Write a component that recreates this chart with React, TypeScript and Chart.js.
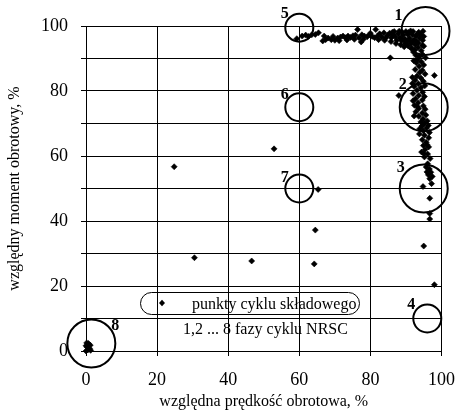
import { useEffect, useRef } from 'react';
import { Chart, registerables } from 'chart.js';

Chart.register(...registerables);

const FONT = "'Liberation Serif', 'Times New Roman', Times, serif";

const xAxisTitle = 'względna prędkość obrotowa, %';
const yAxisTitle = 'względny moment obrotowy, %';
const legendPointsText = 'punkty cyklu składowego';
const legendPhasesText = '1,2 ... 8 fazy cyklu NRSC';

// [relative speed %, relative torque %]
const idleCluster: [number, number][] = [
  [0, 0], [0.5, 0.3], [1, 0.8], [0.3, 1.2], [1.2, 1.8], [0.7, 2.3], [0, 1.6], [1.3, 0.2], [0.6, 1.6], [0.2, 2.5],
];

const scatteredPoints: [number, number][] = [
  [24.8, 56.7], [30.5, 28.7], [46.6, 27.7], [52.9, 62.2], [64.2, 26.8], [64.5, 37.2], [65.3, 49.7],
  [85.6, 90.2], [88, 78.6], [98, 84.8], [95, 32.3], [98, 20.4],
];

const topBand: [number, number][] = [
  [59.3, 96.1], [60.8, 96.9], [61.8, 97.2], [62.6, 96.8], [63.5, 97.3], [64.5, 97.4], [65.4, 97.9],
  [66.6, 95.4], [67.4, 95.8], [68.1, 96.3], [69, 95.8], [70, 95.6], [70.8, 96.3], [71.6, 96.6],
  [72.3, 96.9], [73, 96.4], [73.7, 96.9], [74.4, 96.5], [75.1, 97], [75.8, 97.2], [76.4, 98.9],
  [76.8, 96.4], [77.4, 95.1], [77.6, 97.3], [78.3, 96.9], [79.1, 96.7], [79.8, 97.3], [80.5, 96.8],
  [81.2, 96.4], [81.5, 98.9], [82, 96.9], [82.6, 97.6], [83.2, 96.6], [83.8, 97.9], [84.3, 96.3],
  [84.8, 97.1], [85.4, 97.8], [85.9, 96.4], [86.4, 97.2], [87, 96.7], [87.4, 95.6], [87.8, 97.6],
  [88.3, 96.4], [88.8, 95.5], [89.2, 97.2], [89.7, 96], [90.1, 95], [90.5, 97.4], [91, 96.2],
  [91.4, 94.6], [91.8, 97.3], [92.3, 95.8], [92.8, 96.9], [93.3, 97.6], [93.8, 96.3], [94.3, 97.2],
  [94.7, 95.6], [95, 96.8], [86.7, 98.3], [89, 98.1], [90.7, 98], [92, 98.3], [93.6, 98.1], [94.8, 98.4],
  [88.5, 94.2], [89.5, 93.6], [90.6, 93.9], [91.6, 93.2], [87.2, 94.6],
  [67, 96.9], [69.5, 96.8], [71.2, 95.5], [73.4, 95.7], [75.5, 95.9], [78, 95.9], [80, 97.8],
  [82.3, 95.8], [84, 95.6], [85.8, 95.2], [86.2, 98.1], [88.1, 98.4], [90, 98.3], [91.3, 98.5],
  [92.6, 94.2], [93.5, 94.8], [94.6, 94.1], [89.9, 94.6], [91.9, 95.2], [90.9, 95.6],
];

const cornerBand: [number, number][] = [
  [92.5, 92.6], [93.4, 93.4], [94.3, 92.4], [95, 93.8], [92.8, 91], [93.8, 90.6], [94.7, 91.2],
  [93.2, 89.6], [94.3, 89], [95, 88], [92.9, 88.7], [93.7, 87.6], [92.6, 86.6], [94.6, 86.4],
  [93.9, 85.7], [93.1, 84.6], [94.2, 84], [92.6, 83.3], [94.9, 83], [93.5, 82.2], [92.3, 81.4],
  [94.2, 81], [93.1, 80.2], [94.7, 79.6], [92, 79.2], [93.6, 78.6], [92.7, 77.6], [94.6, 77.2],
  [93.4, 76.4], [92.4, 75.6], [94.9, 75.4], [93.6, 74.6], [92.8, 73.6], [94.6, 73.2], [95.6, 72.6],
  [93.6, 72.2], [94.8, 71.4], [96, 70.8], [95.2, 70], [94.5, 69.2], [95.8, 68.6], [94.9, 67.8],
  [93.8, 66.8], [95.2, 66.4], [96.4, 65.6], [94.6, 65], [95.7, 64.2], [94.9, 63.2], [96.4, 62.8],
  [95.4, 62], [94.4, 61.2], [96.1, 60.6], [95.2, 59.7],
  [93, 95.2], [92.1, 92], [95.5, 90.2], [92.2, 89.3], [95.4, 85.2], [91.8, 84.2], [95.3, 81.6],
  [91.8, 82.3], [95.2, 78.3], [92, 77], [93.2, 75.2], [95.4, 74.4], [92.3, 72.3], [94.2, 70.5],
  [96.3, 69.4], [93.9, 68.4], [96.6, 67.2], [95.9, 63.5], [95, 60.8], [96.8, 59.2],
];

const lowerBand: [number, number][] = [
  [96.1, 57.6], [95.7, 56.6], [96.6, 56], [95.9, 55.1], [97, 55], [96.3, 54.2], [97.4, 53.7],
  [96.7, 53], [97.2, 51.5], [94.8, 50.6], [96.7, 47], [96.7, 42.3], [96.7, 40.6],
];

// NRSC phases
const phaseLabels = ['1', '2', '3', '4', '5', '6', '7', '8'];
const phaseSpeed = [95.5, 95, 95, 96, 60, 60, 60, 1.5];
const phaseTorque = [98.5, 75, 50, 10, 99.5, 75, 50, 2.3];

const cyclePoints = [...idleCluster, ...scatteredPoints, ...topBand, ...cornerBand, ...lowerBand].map(
  ([x, y]) => ({ x, y })
);
const phasePoints = phaseSpeed.map((x, i) => ({ x, y: phaseTorque[i] }));

// pixel offsets of phase numbers relative to their circles
const labelOffsets: [number, number][] = [
  [-27, -15], [-21, -22], [-23, -21], [-16, -14], [-14.5, -14], [-14.5, -12], [-14.5, -11], [24, -17.5],
];

const overlayPlugin = {
  id: 'nrscOverlay',
  afterDatasetsDraw(chart: any) {
    const ctx = chart.ctx as CanvasRenderingContext2D;
    const meta = chart.getDatasetMeta(1);
    ctx.save();
    ctx.fillStyle = '#000';
    ctx.font = `bold 16px ${FONT}`;
    ctx.textAlign = 'center';
    ctx.textBaseline = 'middle';
    meta.data.forEach((el: any, i: number) => {
      const [dx, dy] = labelOffsets[i];
      ctx.fillText(phaseLabels[i], el.x + dx, el.y + dy);
    });

    // legend
    const { left, top } = chart.chartArea;
    const px = left + 54;
    const py = top + 266;
    const w = 219;
    const h = 22;
    ctx.strokeStyle = '#000';
    ctx.lineWidth = 1;
    ctx.beginPath();
    (ctx as any).roundRect(px + 0.5, py + 0.5, w, h, h / 2);
    ctx.stroke();
    // diamond marker
    const mx = px + 22;
    const my = py + 11;
    ctx.beginPath();
    ctx.moveTo(mx, my - 3.3);
    ctx.lineTo(mx + 3, my);
    ctx.lineTo(mx, my + 3.3);
    ctx.lineTo(mx - 3, my);
    ctx.closePath();
    ctx.fill();
    ctx.font = `16px ${FONT}`;
    ctx.textAlign = 'left';
    ctx.textBaseline = 'alphabetic';
    ctx.fillText(legendPointsText, px + 52, py + 17);
    ctx.fillText(legendPhasesText, px + 43, py + 42);
    ctx.restore();
  },
};

export default function App() {
  const canvasRef = useRef<HTMLCanvasElement | null>(null);

  useEffect(() => {
    document.body.style.margin = '0';
    const canvas = canvasRef.current;
    if (!canvas) return;
    const chart = new Chart(canvas, {
      type: 'scatter',
      data: {
        datasets: [
          {
            label: legendPointsText,
            data: cyclePoints,
            pointStyle: 'rectRot',
            pointRadius: 3,
            backgroundColor: '#000',
            borderColor: '#000',
            borderWidth: 0.6,
            clip: false,
          },
          {
            label: legendPhasesText,
            data: phasePoints,
            pointStyle: 'circle',
            pointRadius: (c: any) => (c.dataIndex <= 2 || c.dataIndex === 7 ? 24 : 14),
            backgroundColor: 'rgba(0,0,0,0)',
            borderColor: '#000',
            borderWidth: 2,
            clip: false,
          },
        ],
      },
      options: {
        responsive: false,
        animation: false,
        events: [],
        layout: { padding: { top: 23, right: 19, left: 0, bottom: 0 } },
        plugins: {
          legend: { display: false },
          tooltip: { enabled: false },
        },
        scales: {
          x: {
            type: 'linear',
            min: 0,
            max: 100,
            ticks: { stepSize: 20, color: '#000', font: { family: FONT, size: 18 }, padding: 13 },
            grid: { color: '#000', lineWidth: 1, tickLength: 5, drawTicks: true },
            border: { display: true, color: '#000', width: 1 },
            title: {
              display: true,
              text: xAxisTitle,
              color: '#000',
              font: { family: FONT, size: 16 },
              padding: { top: 0, bottom: 2.4 },
            },
            afterFit: (s: any) => {
              s.height = 63;
            },
          },
          y: {
            type: 'linear',
            min: 0,
            max: 100,
            ticks: {
              stepSize: 10,
              color: '#000',
              font: { family: FONT, size: 18 },
              padding: 13,
              callback: (v: any) => (Number(v) % 20 === 0 ? String(v) : ''),
            },
            grid: { color: '#000', lineWidth: 1, tickLength: 5, drawTicks: true },
            border: { display: true, color: '#000', width: 1 },
            title: {
              display: true,
              text: yAxisTitle,
              color: '#000',
              font: { family: FONT, size: 16 },
              padding: { top: 5.4, bottom: 0 },
            },
            afterFit: (s: any) => {
              s.width = 86;
            },
          },
        },
      },
      plugins: [overlayPlugin],
    });
    return () => chart.destroy();
  }, []);

  return (
    <div style={{ position: 'absolute', left: 0, top: 0, width: 468, height: 414 }}>
      <canvas ref={canvasRef} width={468} height={414} />
    </div>
  );
}
